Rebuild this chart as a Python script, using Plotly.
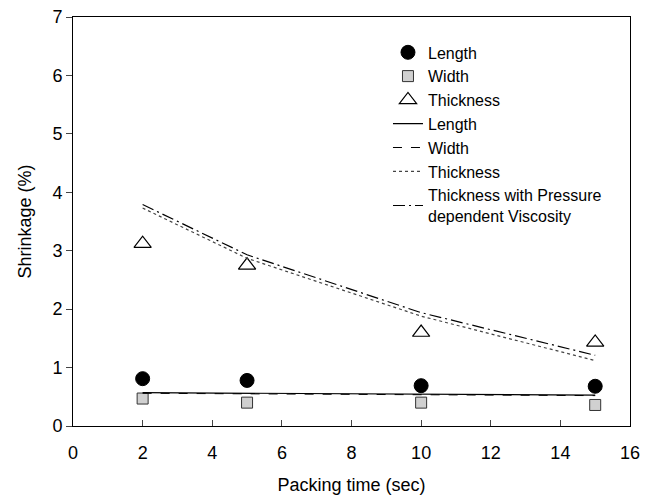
import plotly.graph_objects as go

# Data
packing_time = [2, 5, 10, 15]
length_meas = [0.81, 0.78, 0.69, 0.68]
width_meas = [0.47, 0.40, 0.40, 0.36]
thickness_meas = [3.12, 2.75, 1.60, 1.43]

length_sim = [0.57, 0.56, 0.55, 0.53]
width_sim = [0.56, 0.55, 0.54, 0.52]
thickness_sim = [3.73, 2.87, 1.88, 1.12]
thickness_pdv_sim = [3.79, 2.93, 1.94, 1.21]

x_ticks = [0, 2, 4, 6, 8, 10, 12, 14, 16]
y_ticks = [0, 1, 2, 3, 4, 5, 6, 7]

FONT = "Liberation Sans, Arial, sans-serif"

fig = go.Figure()
fig.add_trace(go.Scatter(x=packing_time, y=length_meas, mode="markers", name="Length",
                         legendrank=1000,
                         marker=dict(symbol="circle", size=14, color="black",
                                     line=dict(color="black", width=1))))
fig.add_trace(go.Scatter(x=packing_time, y=width_meas, mode="markers", name="Width",
                         legendrank=1001,
                         marker=dict(symbol="square", size=11, color="#d0d0d0",
                                     line=dict(color="#333333", width=1))))
fig.add_trace(go.Scatter(x=packing_time, y=thickness_meas, mode="markers", name="Thickness",
                         legendrank=1002,
                         marker=dict(symbol="triangle-up-open", size=15, color="black",
                                     line=dict(color="black", width=1.2))))
fig.add_trace(go.Scatter(x=packing_time, y=width_sim, mode="lines", name="Width",
                         legendrank=1005,
                         line=dict(color="black", width=1, dash="dash")))
fig.add_trace(go.Scatter(x=packing_time, y=length_sim, mode="lines", name="Length",
                         legendrank=1004,
                         line=dict(color="black", width=1.2, dash="solid")))
fig.add_trace(go.Scatter(x=packing_time, y=thickness_sim, mode="lines", name="Thickness",
                         legendrank=1006,
                         line=dict(color="#444444", width=1.2, dash="dot")))
fig.add_trace(go.Scatter(x=packing_time, y=thickness_pdv_sim, mode="lines",
                         name="Thickness with Pressure<br>dependent Viscosity",
                         legendrank=1007,
                         line=dict(color="black", width=1.2, dash="12px,4px,2px,4px")))

fig.update_layout(
    width=662, height=499,
    margin=dict(l=73, r=32, t=17, b=73, autoexpand=False),
    paper_bgcolor="white", plot_bgcolor="white",
    font=dict(family=FONT, size=18, color="black"),
    showlegend=True,
    legend=dict(x=0.5655, y=0.955, xanchor="left", yanchor="top",
                bgcolor="rgba(0,0,0,0)", borderwidth=0, traceorder="normal",
                font=dict(size=16), tracegroupgap=0),
    xaxis=dict(range=[0, 16], tickvals=x_ticks, ticks="inside", ticklen=6,
               ticklabelstandoff=10, automargin=False,
               showgrid=False, zeroline=False, showline=True, linecolor="black",
               linewidth=1, mirror=True,
               title=dict(text="Packing time (sec)", standoff=16, font=dict(size=18))),
    yaxis=dict(range=[0, 7], tickvals=y_ticks, ticks="outside", ticklen=6,
               automargin=False,
               showgrid=False, zeroline=False, showline=True, linecolor="black",
               linewidth=1, mirror=True,
               title=dict(text="Shrinkage (%)", standoff=16, font=dict(size=18))),
)

fig.write_html("out.html")
